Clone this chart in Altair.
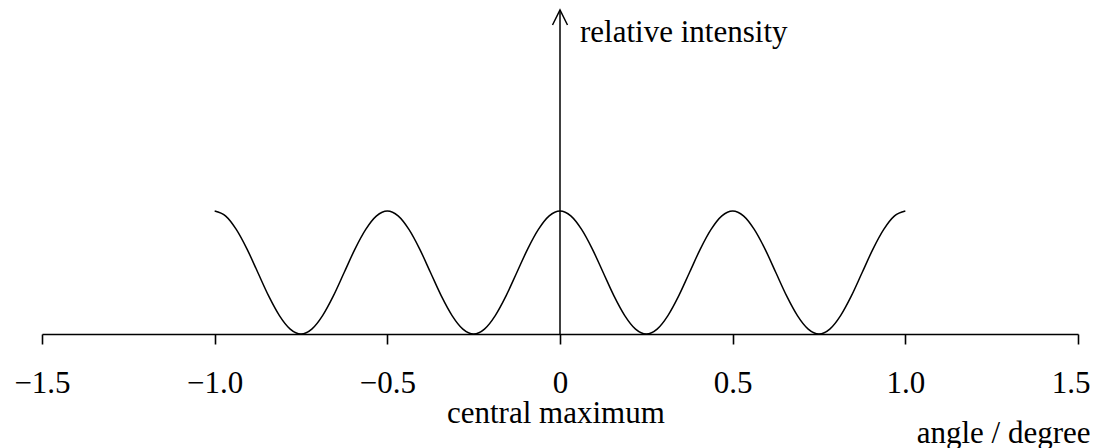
import altair as alt
import pandas as pd

# Values
angle = [-1.0, -0.96875, -0.9375, -0.90625, -0.875, -0.84375, -0.8125, -0.78125,
         -0.75, -0.71875, -0.6875, -0.65625, -0.625, -0.59375, -0.5625, -0.53125,
         -0.5, -0.46875, -0.4375, -0.40625, -0.375, -0.34375, -0.3125, -0.28125,
         -0.25, -0.21875, -0.1875, -0.15625, -0.125, -0.09375, -0.0625, -0.03125,
         0.0, 0.03125, 0.0625, 0.09375, 0.125, 0.15625, 0.1875, 0.21875,
         0.25, 0.28125, 0.3125, 0.34375, 0.375, 0.40625, 0.4375, 0.46875,
         0.5, 0.53125, 0.5625, 0.59375, 0.625, 0.65625, 0.6875, 0.71875,
         0.75, 0.78125, 0.8125, 0.84375, 0.875, 0.90625, 0.9375, 0.96875, 1.0]
intensity = [1.0, 0.96, 0.85, 0.69, 0.5, 0.31, 0.15, 0.04,
             0.0, 0.04, 0.15, 0.31, 0.5, 0.69, 0.85, 0.96,
             1.0, 0.96, 0.85, 0.69, 0.5, 0.31, 0.15, 0.04,
             0.0, 0.04, 0.15, 0.31, 0.5, 0.69, 0.85, 0.96,
             1.0, 0.96, 0.85, 0.69, 0.5, 0.31, 0.15, 0.04,
             0.0, 0.04, 0.15, 0.31, 0.5, 0.69, 0.85, 0.96,
             1.0, 0.96, 0.85, 0.69, 0.5, 0.31, 0.15, 0.04,
             0.0, 0.04, 0.15, 0.31, 0.5, 0.69, 0.85, 0.96, 1.0]
tick_values = [-1.5, -1.0, -0.5, 0.0, 0.5, 1.0, 1.5]

x_title = "angle / degree"
y_label = "relative intensity"
center_label = "central maximum"

ARROW_TOP = 2.634
FONT = "Liberation Serif"
FS = 31

df = pd.DataFrame({"angle": angle, "intensity": intensity})

xscale = alt.Scale(domain=[-1.5, 1.5], nice=False, zero=False)
yscale = alt.Scale(domain=[0, 2.65], nice=False, zero=False)

xaxis = alt.Axis(
    values=tick_values, title=x_title, grid=False,
    domainColor="black", domainWidth=1.6,
    tickColor="black", tickWidth=1.6, tickSize=10,
    labelFont=FONT, labelFontSize=FS, labelColor="black",
    labelBaseline="alphabetic", labelPadding=48, labelFlush=False,
    labelOverlap=False,
    labelAlign={"condition": {"test": "datum.value == 1.5", "value": "right"}, "value": "center"},
    labelOffset={"condition": {"test": "datum.value == 1.5", "value": 12}, "value": 0},
    labelExpr="datum.value == 0 ? '0' : format(datum.value, '.1f')",
    titleFont=FONT, titleFontSize=FS, titleFontWeight="normal",
    titleColor="black", titleAlign="right", titleBaseline="alphabetic",
    titleAnchor="start", titleX=1048, titleY=108,
)


def X(field):
    return alt.X(field, type="quantitative", scale=xscale, axis=xaxis)


def Y(field):
    return alt.Y(field, type="quantitative", scale=yscale, axis=None)


curve = alt.Chart(df).mark_line(
    color="black", strokeWidth=1.5, interpolate="monotone"
).encode(x=X("angle"), y=Y("intensity"))

shaft_df = pd.DataFrame({"x": [0.0], "y": [0.0], "y2": [ARROW_TOP]})
shaft = alt.Chart(shaft_df).mark_rule(color="black", strokeWidth=1.5).encode(
    x=X("x"), y=Y("y"), y2="y2"
)

head_df = pd.DataFrame({"x": [0.0], "y": [ARROW_TOP]})
head = alt.Chart(head_df).mark_point(
    shape="M-0.5,1L0,0L0.5,1", size=900, filled=False,
    color="black", strokeWidth=1.5, opacity=1
).encode(x=X("x"), y=Y("y"))

left_df = pd.DataFrame({"label": [y_label], "tx": [0.058], "ty": [2.374]})
left_text = alt.Chart(left_df).mark_text(
    align="left", baseline="alphabetic", font=FONT, fontSize=FS, color="black"
).encode(x=X("tx"), y=Y("ty"), text="label")

center_df = pd.DataFrame({"label": [center_label], "tx": [-0.012], "ty": [-0.724]})
center_text = alt.Chart(center_df).mark_text(
    align="center", baseline="alphabetic", font=FONT, fontSize=FS, color="black"
).encode(x=X("tx"), y=Y("ty"), text="label")

chart = alt.layer(curve, shaft, head, left_text, center_text).properties(
    width=1036, height=326,
    autosize=alt.AutoSizeParams(type="none"),
    padding={"left": 34, "top": 0, "right": 12, "bottom": 114},
    background="white",
).configure_view(stroke=None)

chart.save("out.html", embed_options={"renderer": "svg", "actions": False})
